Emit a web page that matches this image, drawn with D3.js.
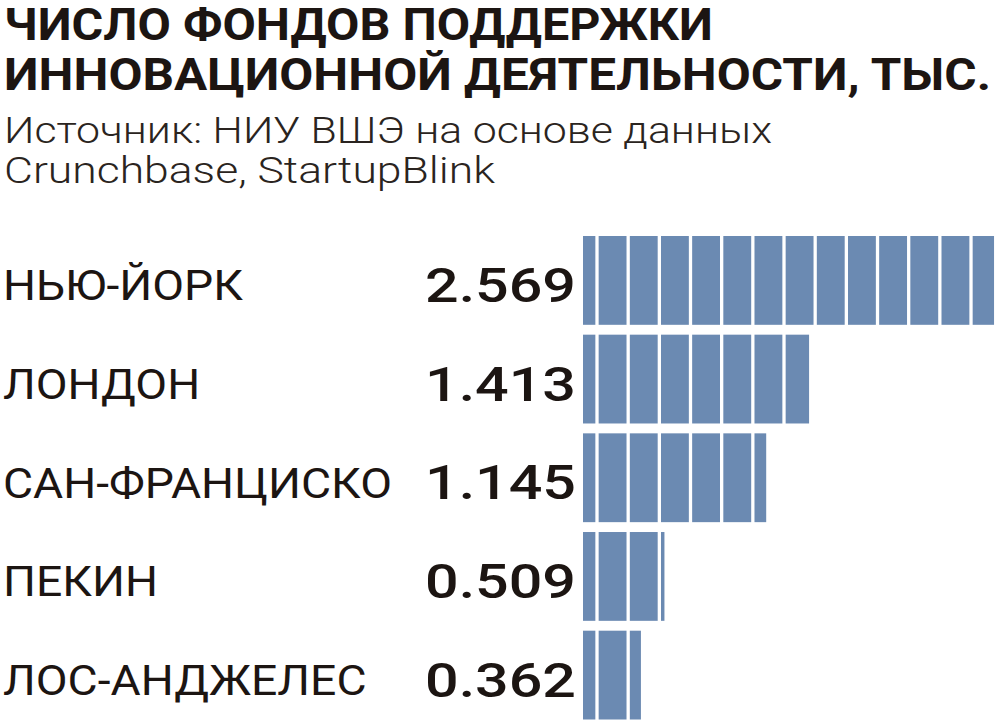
<!DOCTYPE html>
<html>
<head>
<meta charset="utf-8">
<script src="https://cdn.jsdelivr.net/npm/d3@7"></script>
<style>
  html, body { margin: 0; padding: 0; background: #ffffff; }
  svg { display: block; }
</style>
</head>
<body>
<svg id="chart" width="1000" height="726"></svg>
<script>
// ---- data ----
const titleLines = ["ЧИСЛО ФОНДОВ ПОДДЕРЖКИ", "ИННОВАЦИОННОЙ ДЕЯТЕЛЬНОСТИ, ТЫС."];
const sourceLines = ["Источник: НИУ ВШЭ на основе данных", "Crunchbase, StartupBlink"];
const cities = ["НЬЮ-ЙОРК", "ЛОНДОН", "САН-ФРАНЦИСКО", "ПЕКИН", "ЛОС-АНДЖЕЛЕС"];
const values = [2.569, 1.413, 1.145, 0.509, 0.362];
const valueLabels = ["2.569", "1.413", "1.145", "0.509", "0.362"];

// ---- styling ----
const textColor = "#1c1512";
const barColor = "#6b8ab2";
const divOffset = 0.0875, divStep = 0.1948; // decorative segment dividers (data units)

const svg = d3.select("#chart");

const x = d3.scaleLinear().domain([0, 1]).range([583, 743]); // 160 px per thousand
const y = d3.scaleBand().domain(cities).range([236, 719.5]).paddingInner(0.1).paddingOuter(0);

function fit(sel, width) {
  sel.attr("textLength", width).attr("lengthAdjust", "spacingAndGlyphs");
}

// ---- title (one text, two lines) ----
const title = svg.append("text")
  .attr("font-family", "Roboto, 'Liberation Sans', sans-serif")
  .attr("font-weight", 700)
  .attr("font-size", 44)
  .attr("fill", textColor);
const tBase = [40, 90];
const tWidth = [709, 987];
titleLines.forEach((t, i) => {
  title.append("tspan").attr("x", 4).attr("y", tBase[i]).text(t).call(fit, tWidth[i]);
});

// ---- source (one text, two lines) ----
const src = svg.append("text")
  .attr("font-family", "Roboto, 'Liberation Sans', sans-serif")
  .attr("font-weight", 300)
  .attr("font-size", 37)
  .attr("fill", "#2a2420");
const sBase = [143, 183];
const sWidth = [768, 491];
sourceLines.forEach((t, i) => {
  src.append("tspan").attr("x", 4).attr("y", sBase[i]).text(t).call(fit, sWidth[i]);
});

// ---- city labels ----
const labels = svg.append("g")
  .attr("font-family", "Roboto, 'DejaVu Sans', sans-serif")
  .attr("font-weight", 400)
  .attr("font-size", 43)
  .attr("fill", textColor)
  .selectAll("text").data(cities).join("text")
  .attr("x", 3)
  .attr("y", d => y(d) + y.bandwidth() / 2 + 20)
  .text(d => d);
const sfNode = labels.filter(d => d === "САН-ФРАНЦИСКО").node();
const labFactor = 389 / sfNode.getComputedTextLength();
labels.each(function() {
  const w = this.getComputedTextLength();
  d3.select(this).call(fit, w * labFactor);
});

// ---- value labels ----
const vals = svg.append("g")
  .attr("font-family", "Roboto, 'DejaVu Sans', sans-serif")
  .attr("font-weight", 500)
  .attr("font-size", 49)
  .attr("fill", textColor)
  .selectAll("text").data(cities).join("text")
  .attr("text-anchor", "end")
  .attr("x", 576)
  .attr("y", d => y(d) + y.bandwidth() / 2 + 21.5)
  .text((d, i) => valueLabels[i]);
const vFactor = 151 / vals.filter(d => d === "НЬЮ-ЙОРК").node().getComputedTextLength();
vals.each(function() {
  const w = this.getComputedTextLength();
  d3.select(this).call(fit, w * vFactor);
});

// ---- bars ----
const bars = svg.append("g");
bars.selectAll("rect").data(cities).join("rect")
  .attr("x", x(0))
  .attr("y", d => y(d))
  .attr("width", (d, i) => x(values[i]) - x(0))
  .attr("height", y.bandwidth())
  .attr("fill", barColor);

const divs = [];
cities.forEach((c, i) => {
  for (let v = divOffset; v < values[i]; v += divStep) divs.push({ c, v });
});
bars.selectAll("line").data(divs).join("line")
  .attr("x1", d => x(d.v)).attr("x2", d => x(d.v))
  .attr("y1", d => y(d.c) - 1).attr("y2", d => y(d.c) + y.bandwidth() + 1)
  .attr("stroke", "#ffffff")
  .attr("stroke-width", 3.3);
</script>
</body>
</html>
